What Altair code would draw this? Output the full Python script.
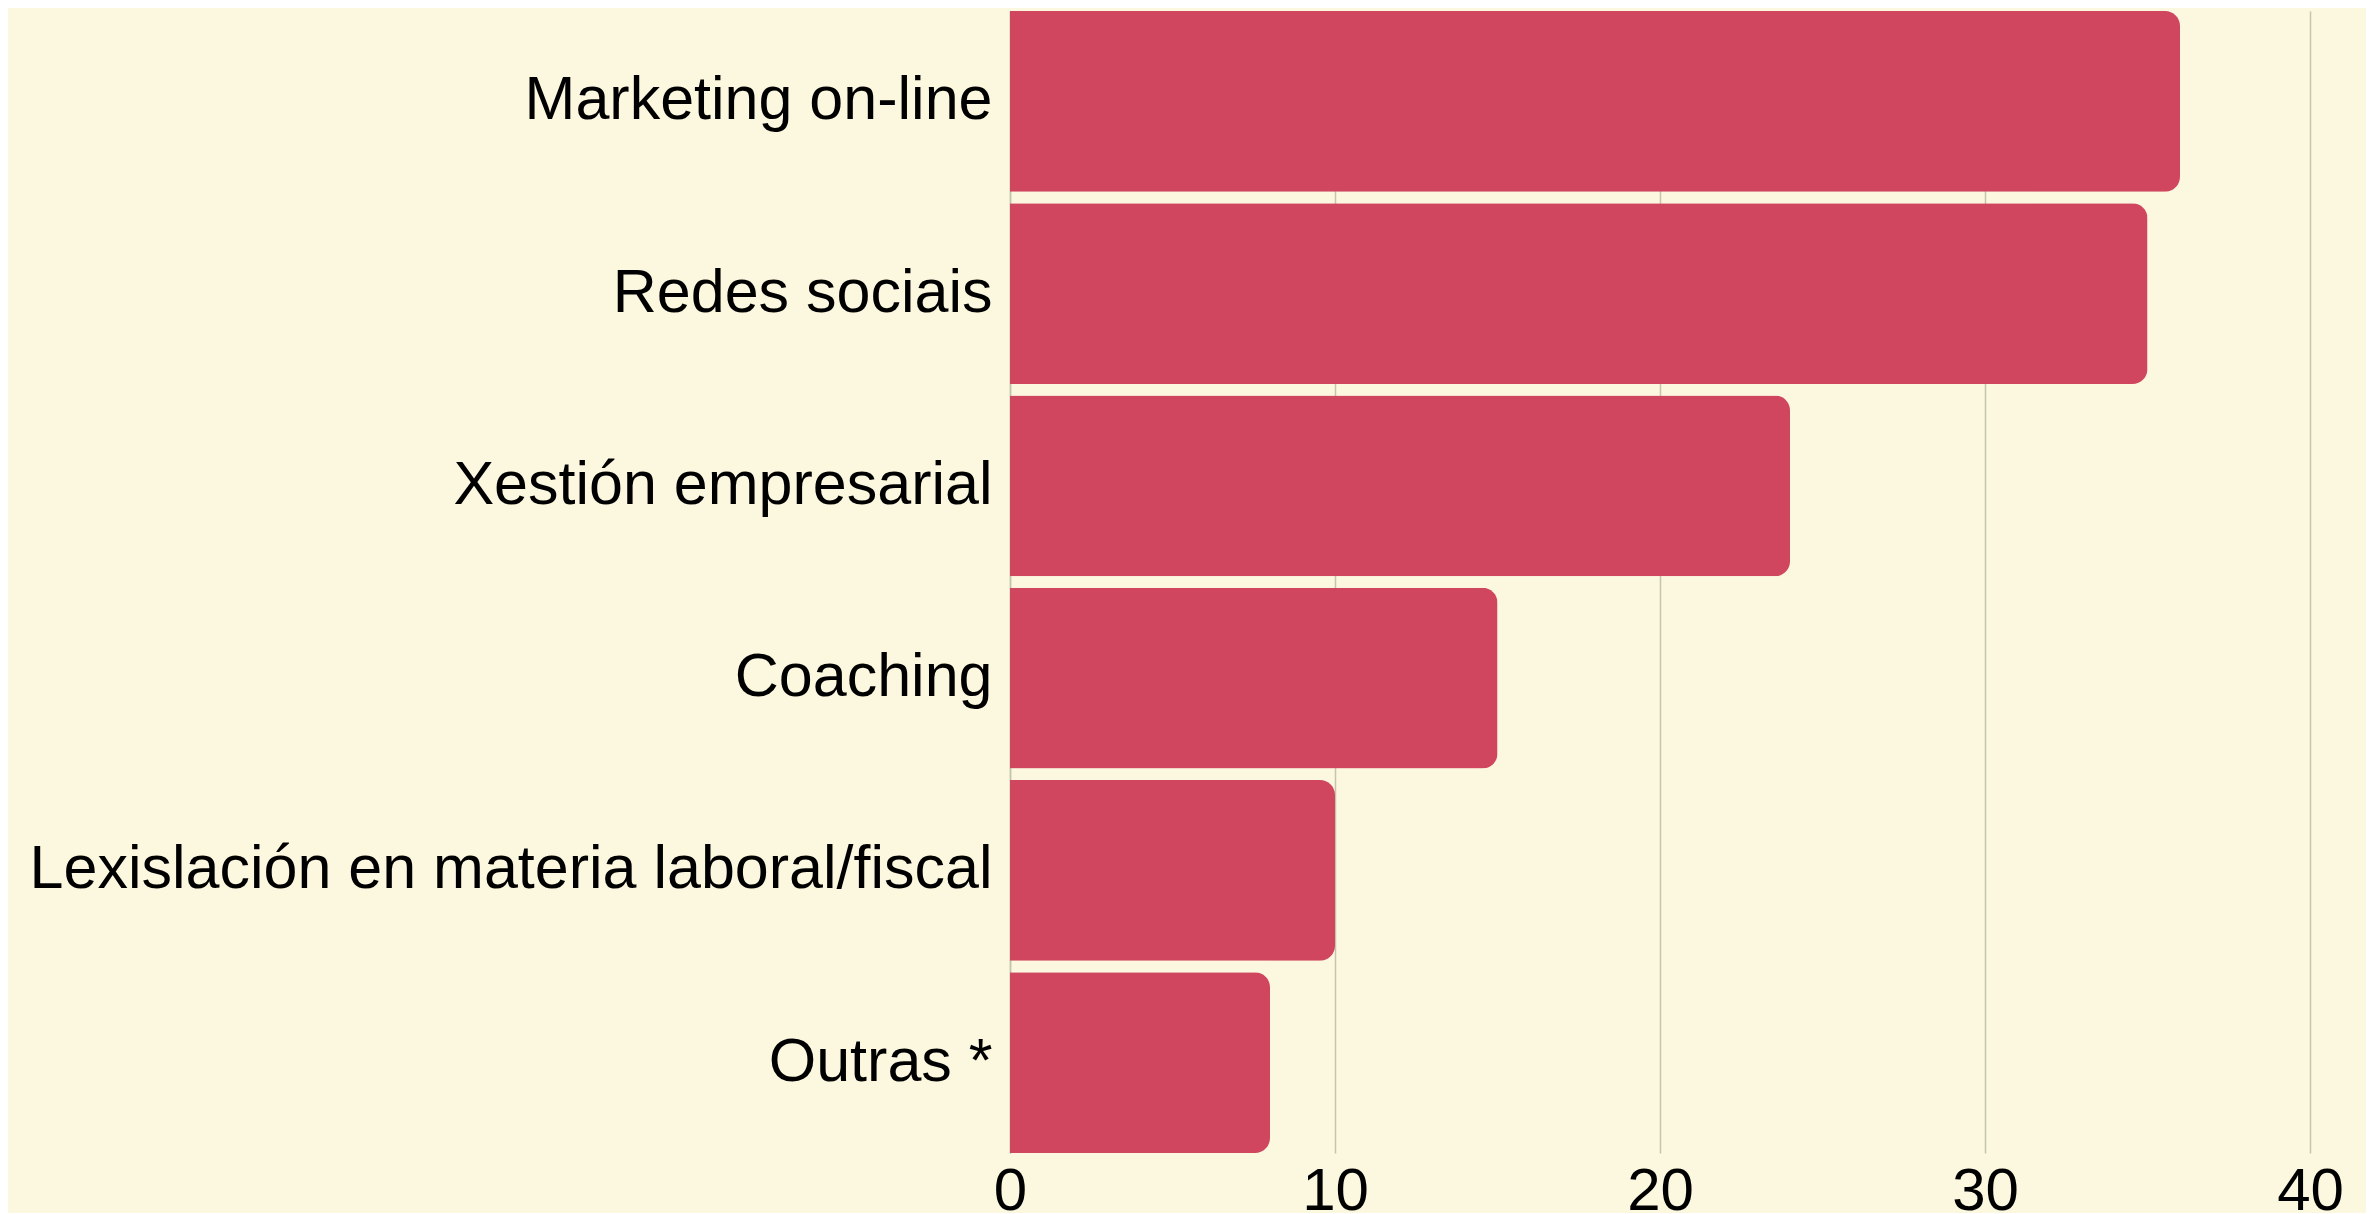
import altair as alt
import pandas as pd

categories = [
    "Marketing on-line",
    "Redes sociais",
    "Xestión empresarial",
    "Coaching",
    "Lexislación en materia laboral/fiscal",
    "Outras *",
]
values = [36, 35, 24, 15, 10, 8]
x_ticks = [0, 10, 20, 30, 40]

df = pd.DataFrame({"categoria": categories, "valor": values})

chart = (
    alt.Chart(df)
    .mark_bar(color="#CF465E", cornerRadiusEnd=15)
    .encode(
        x=alt.X(
            "valor:Q",
            scale=alt.Scale(domain=[0, 40], nice=False, zero=True),
            axis=alt.Axis(
                values=x_ticks,
                title=None,
                grid=True,
                gridColor="#C3C6AD",
                gridWidth=1.5,
                domain=False,
                ticks=False,
                labelFont="Liberation Sans",
                labelFontSize=60,
                labelColor="#000000",
                labelPadding=9,
                labelFlush=False,
            ),
        ),
        y=alt.Y(
            "categoria:N",
            sort=categories,
            scale=alt.Scale(paddingInner=0.06, paddingOuter=0),
            axis=alt.Axis(
                title=None,
                domain=True,
                domainColor="#C3C6AD",
                domainWidth=1.5,
                ticks=False,
                grid=False,
                labelFont="Liberation Sans",
                labelFontSize=61,
                labelColor="#000000",
                labelPadding=18,
                labelLimit=1200,
            ),
        ),
    )
    .properties(
        width=1300,
        height=1142,
        background="#FCF7DF",
        padding={"left": 1002, "top": 3, "right": 56, "bottom": 60},
        autosize=alt.AutoSizeParams(type="none"),
    )
    .configure_view(stroke=None)
)

chart.save("out.html", embed_options={"renderer": "svg", "actions": False})
